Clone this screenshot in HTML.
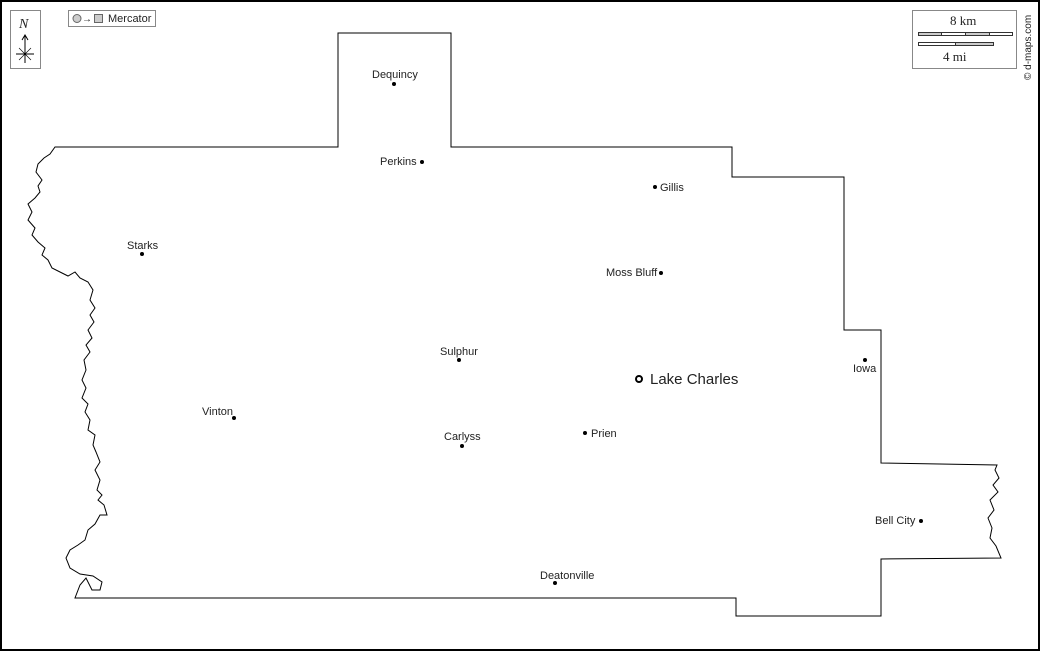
<!DOCTYPE html>
<html><head><style>
html,body{margin:0;padding:0;background:#fff}
svg{display:block}
text{font-family:"Liberation Sans",sans-serif;font-size:11px;fill:#222}
</style></head><body>
<svg width="1040" height="651" viewBox="0 0 1040 651">
<rect x="1" y="1" width="1038" height="649" fill="#fff" stroke="#000" stroke-width="2"/>
<!-- north -->
<rect x="10.5" y="10.5" width="30" height="58" fill="#fff" stroke="#888"/>
<text x="19" y="28" style="font-family:'Liberation Serif',serif;font-style:italic;font-size:14px">N</text>
<line x1="25" y1="36" x2="25" y2="63" stroke="#000"/>
<path d="M22,40 L25,35 L28,40" fill="none" stroke="#000"/>
<line x1="16" y1="54" x2="34" y2="54" stroke="#000"/>
<line x1="19" y1="48" x2="31" y2="60" stroke="#000" stroke-width=".6"/>
<line x1="31" y1="48" x2="19" y2="60" stroke="#000" stroke-width=".6"/>
<!-- mercator -->
<rect x="68.5" y="10.5" width="87" height="16" fill="#fff" stroke="#888"/>
<circle cx="77" cy="18.5" r="4" fill="#ccc" stroke="#666"/>
<text x="82" y="22" style="font-size:10px">→</text>
<rect x="94.5" y="14.5" width="8" height="8" fill="#ccc" stroke="#666"/>
<text x="108" y="22">Mercator</text>
<!-- scale -->
<rect x="912.5" y="10.5" width="104" height="58" fill="#fff" stroke="#888"/>
<text x="950" y="25" style="font-family:'Liberation Serif',serif;font-size:13px">8 km</text>
<rect x="918.5" y="32.5" width="94" height="3" fill="#fff" stroke="#333"/>
<rect x="918.5" y="32.5" width="23" height="3" fill="#ccc" stroke="#333"/>
<rect x="965.5" y="32.5" width="24" height="3" fill="#ccc" stroke="#333"/>
<rect x="918.5" y="42.5" width="75" height="3" fill="#fff" stroke="#333"/>
<rect x="955.5" y="42.5" width="38" height="3" fill="#ccc" stroke="#333"/>
<text x="943" y="61" style="font-family:'Liberation Serif',serif;font-size:13px">4 mi</text>
<text transform="translate(1031,80) rotate(-90)" style="font-size:10px">© d-maps.com</text>
<!-- parish -->
<path fill="#fff" stroke="#000" stroke-width="1" d="M55,147 L338,147 L338,33 L451,33 L451,147 L732,147 L732,177 L844,177 L844,330 L881,330 L881,463 L997,465
 L995,470 L999,478 L993,485 L998,492 L990,500 L994,510 L988,518 L992,528 L990,538 L996,546 L1001,558 L881,559 L881,616 L736,616 L736,598 L75,598
 L80,585 L86,578 L92,590 L100,590 L102,582 L93,576 L80,574 L70,568 L66,558 L70,550 L78,545 L85,540 L88,530 L95,524 L100,515 L107,515 L104,505 L98,500 L102,495 L97,490 L100,480 L95,470 L100,462 L96,452 L93,445 L95,435 L88,430 L90,420 L85,412 L88,404 L82,398 L86,388 L82,380 L86,370 L84,360 L90,352 L86,345 L92,338 L88,330 L94,322 L90,315 L95,308 L90,300 L93,290 L88,282 L80,278 L75,272 L68,276 L60,272 L52,268 L48,260 L42,255 L45,248 L38,242 L32,235 L35,228 L28,220 L32,212 L28,204 L35,198 L40,192 L38,186 L42,180 L36,172 L38,164 L44,158 L50,154 Z"/>
<!-- places -->
<g fill="#000">
<circle cx="394" cy="84" r="2"/><circle cx="422" cy="162" r="2"/><circle cx="655" cy="187" r="2"/>
<circle cx="142" cy="254" r="2"/><circle cx="661" cy="273" r="2"/><circle cx="459" cy="360" r="2"/>
<circle cx="865" cy="360" r="2"/><circle cx="234" cy="418" r="2"/><circle cx="585" cy="433" r="2"/>
<circle cx="462" cy="446" r="2"/><circle cx="921" cy="521" r="2"/><circle cx="555" cy="583" r="2"/>
</g>
<circle cx="639" cy="379" r="3" fill="#fff" stroke="#000" stroke-width="2"/>
<text x="372" y="78">Dequincy</text>
<text x="380" y="165">Perkins</text>
<text x="660" y="191">Gillis</text>
<text x="127" y="249">Starks</text>
<text x="606" y="276">Moss Bluff</text>
<text x="440" y="355">Sulphur</text>
<text x="853" y="372">Iowa</text>
<text x="650" y="384" style="font-size:15px">Lake Charles</text>
<text x="202" y="415">Vinton</text>
<text x="591" y="437">Prien</text>
<text x="444" y="440">Carlyss</text>
<text x="875" y="524">Bell City</text>
<text x="540" y="579">Deatonville</text>
</svg>
</body></html>
